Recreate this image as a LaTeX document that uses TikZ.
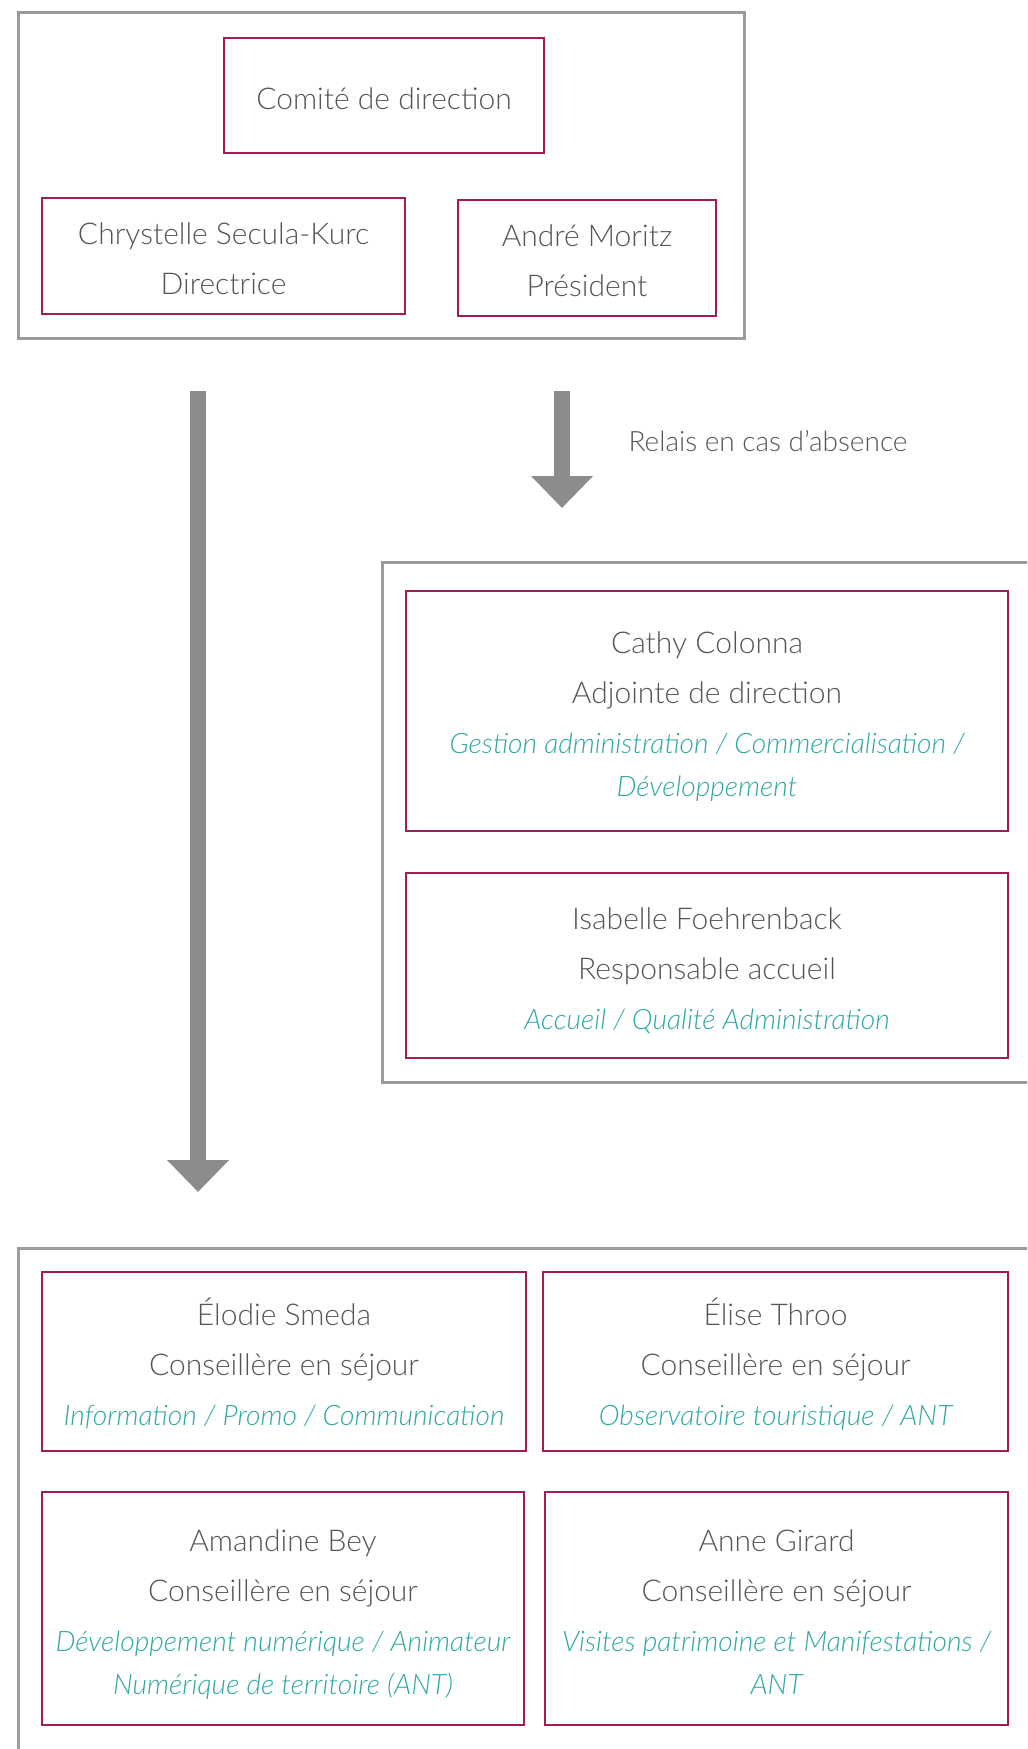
\documentclass[tikz,border=0pt]{standalone}
\usepackage{fontspec}
\setmainfont{Lato}[UprightFont=* Light, ItalicFont=* Light Italic]
\usetikzlibrary{arrows.meta}
\definecolor{framegray}{RGB}{155,155,155}
\definecolor{arrowgray}{RGB}{140,140,140}
\definecolor{boxred}{RGB}{163,29,84}
\definecolor{namegray}{RGB}{85,85,85}
\definecolor{taskcol}{RGB}{47,168,166}
\newcommand{\task}[1]{{\fontsize{14.1}{21.5}\selectfont\itshape\color{taskcol}#1}}
\newcommand{\topstrut}{\rule{0pt}{19pt}}
\newcommand{\botstrut}{\rule[-5pt]{0pt}{5pt}}
\tikzset{
  group/.style={draw=framegray, line width=1.5pt, inner sep=0pt},
  person/.style={draw=boxred, line width=0.7pt, align=center, text=namegray, inner sep=0pt,
    font=\fontsize{15}{21.5}\selectfont},
  bigarrow/.style={draw=arrowgray, line width=7.8pt, -{Triangle[width=30pt,length=16pt]}},
}
\begin{document}
\begin{tikzpicture}[x=0.5pt,y=-0.5pt]
  \clip (0,0) rectangle (1027,1749);
  \fill[white] (0,0) rectangle (1027,1749);

  % direction
  \node[group, minimum width=363pt, minimum height=163pt] (dirgroup) at (381,176) {};
  \node[person, minimum width=160pt, minimum height=57.5pt] (comite) at (384,95.5)
    {\topstrut Comité de direction\botstrut};
  \node[person, minimum width=181.5pt, minimum height=58pt] (directrice) at (223.5,256)
    {\topstrut Chrystelle Secula-Kurc\\[3.5pt] Directrice\botstrut};
  \node[person, minimum width=129pt, minimum height=58pt] (president) at (587,258)
    {\topstrut André Moritz\\[3.5pt] Président\botstrut};

  % arrows
  \coordinate (leftstart) at (198,391);
  \coordinate (leftend) at (198,1192);
  \coordinate (rightstart) at (562,391);
  \coordinate (rightend) at (562,508);
  \draw[bigarrow] (leftstart) -- (leftend);
  \draw[bigarrow] (rightstart) -- (rightend);
  \node[text=namegray, font=\fontsize{14}{18}\selectfont] (relais) at (768,441) {Relais en cas d’absence};

  % adjointes
  \node[group, minimum width=329pt, minimum height=260pt] (relaisgroup) at (711,822) {};
  \node[person, minimum width=301pt, minimum height=120pt] (adjointe) at (707,711)
    {\topstrut Cathy Colonna\\[3.5pt] Adjointe de direction\\[3.5pt]
     \task{Gestion administration / Commercialisation /}\\ \task{Développement}\botstrut};
  \node[person, minimum width=301pt, minimum height=92.5pt] (accueil) at (707,965.5)
    {\topstrut Isabelle Foehrenback\\[3.5pt] Responsable accueil\\[3.5pt]
     \task{Accueil / Qualité Administration}\botstrut};

  % conseilleres
  \node[group, minimum width=511pt, minimum height=256pt] (sejourgroup) at (529,1504) {};
  \node[person, minimum width=242pt, minimum height=89.5pt] (smeda) at (284,1361.5)
    {\topstrut Élodie Smeda\\[3.5pt] Conseillère en séjour\\[3.5pt]
     \task{Information / Promo / Communication}\botstrut};
  \node[person, minimum width=232.5pt, minimum height=89.5pt] (throo) at (775.5,1361.5)
    {\topstrut Élise Throo\\[3.5pt] Conseillère en séjour\\[3.5pt]
     \task{Observatoire touristique / ANT}\botstrut};
  \node[person, minimum width=241pt, minimum height=116.5pt] (bey) at (283,1608.5)
    {\topstrut Amandine Bey\\[3.5pt] Conseillère en séjour\\[3.5pt]
     \task{Développement numérique / Animateur}\\ \task{Numérique de territoire (ANT)}\botstrut};
  \node[person, minimum width=231.5pt, minimum height=116.5pt] (girard) at (776.5,1608.5)
    {\topstrut Anne Girard\\[3.5pt] Conseillère en séjour\\[3.5pt]
     \task{Visites patrimoine et Manifestations /}\\ \task{ANT}\botstrut};
\end{tikzpicture}
\end{document}
